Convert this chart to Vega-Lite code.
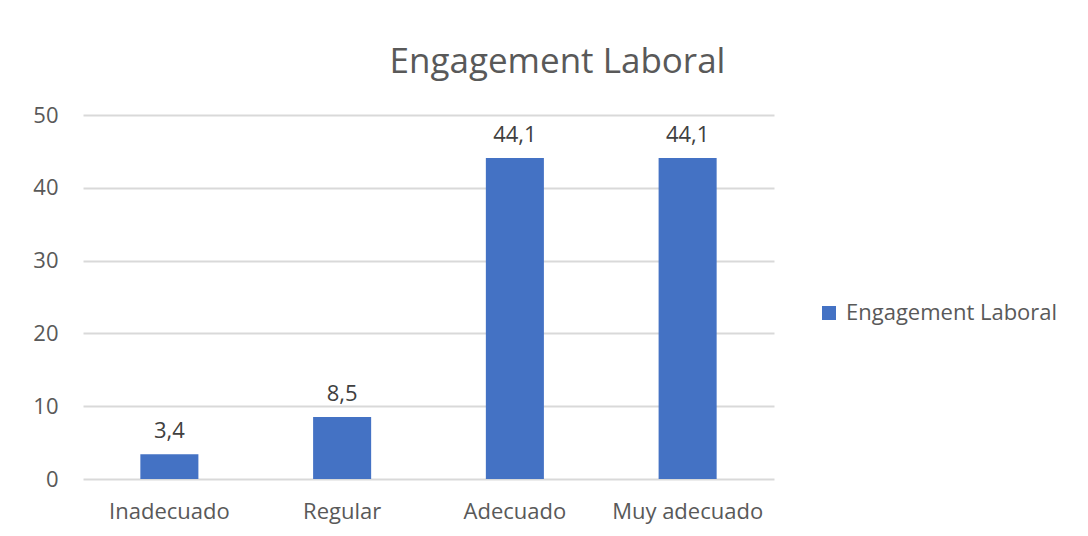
{
  "$schema": "https://vega.github.io/schema/vega-lite/v6.json",
  "width": 691,
  "height": 364,
  "autosize": "none",
  "padding": {"left": 83, "top": 115, "right": 314, "bottom": 57},
  "background": "white",
  "config": {
    "font": "Open Sans",
    "view": {"stroke": null},
    "locale": {"number": {"decimal": ",", "thousands": ".", "grouping": [3], "currency": ["", " €"]}}
  },
  "title": {
    "text": "Engagement Laboral",
    "fontSize": 35,
    "fontWeight": "normal",
    "color": "#595959",
    "anchor": "middle",
    "dx": 129,
    "offset": 24
  },
  "data": {
    "values": [
      {"categoria": "Inadecuado", "valor": 3.4, "serie": "Engagement Laboral"},
      {"categoria": "Regular", "valor": 8.5, "serie": "Engagement Laboral"},
      {"categoria": "Adecuado", "valor": 44.1, "serie": "Engagement Laboral"},
      {"categoria": "Muy adecuado", "valor": 44.1, "serie": "Engagement Laboral"}
    ]
  },
  "encoding": {
    "x": {
      "field": "categoria",
      "type": "nominal",
      "sort": null,
      "scale": {"paddingInner": 0.664, "paddingOuter": 0.332},
      "axis": {
        "title": null,
        "labelAngle": 0,
        "labelFontSize": 22,
        "labelColor": "#595959",
        "labelPadding": 22,
        "ticks": false,
        "domain": false
      }
    },
    "y": {
      "field": "valor",
      "type": "quantitative",
      "scale": {"domain": [0, 50]},
      "axis": {
        "title": null,
        "values": [0, 10, 20, 30, 40, 50],
        "labelFontSize": 22,
        "labelColor": "#595959",
        "labelPadding": 25,
        "ticks": false,
        "domain": false,
        "gridColor": "#d9d9d9",
        "gridWidth": 2,
        "format": "d"
      }
    }
  },
  "layer": [
    {
      "mark": {"type": "bar"},
      "encoding": {
        "color": {
          "field": "serie",
          "type": "nominal",
          "scale": {"range": ["#4472C4"]},
          "legend": {
            "title": null,
            "orient": "none",
            "legendX": 735,
            "legendY": 187,
            "symbolType": "square",
            "symbolSize": 196,
            "symbolStrokeWidth": 0,
            "labelFontSize": 22,
            "labelColor": "#595959",
            "labelOffset": 6,
            "labelLimit": 400
          }
        }
      }
    },
    {
      "mark": {"type": "text", "baseline": "alphabetic", "dy": -16, "fontSize": 22, "color": "#404040"},
      "encoding": {
        "text": {"field": "valor", "type": "quantitative", "format": ".1f"}
      }
    }
  ]
}
